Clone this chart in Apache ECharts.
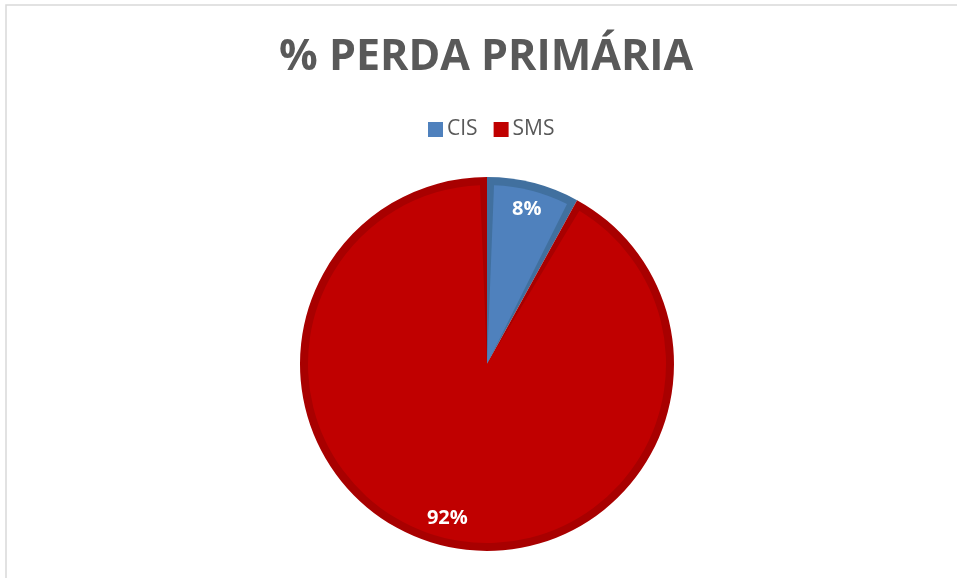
<!DOCTYPE html>
<html>
<head>
<meta charset="utf-8">
<script src="https://cdn.jsdelivr.net/npm/echarts@6/dist/echarts.min.js"></script>
<style>
  html, body { margin: 0; padding: 0; background: #fff; }
  #chart { width: 957px; height: 578px; }
</style>
</head>
<body>
<div id="chart"></div>
<script>
const categories = ["CIS", "SMS"],
  values = [8, 92],
  fillColors = ["#4f81bd", "#c00000"],
  edgeColors = ["#41709f", "#a80000"];

const pieCenter = [487, 364];

const mainData = categories.map((name, i) => ({
  name: name,
  value: values[i],
  itemStyle: { color: fillColors[i] },
}));
const edgeData = categories.map((name, i) => ({
  name: name,
  value: values[i],
  itemStyle: { color: edgeColors[i] },
}));

echarts.init(document.querySelector("#chart")).setOption({
  animation: false,
  title: {
    text: "% PERDA PRIMÁRIA",
    left: 274,
    top: 31,
    textStyle: {
      fontFamily: "Open Sans",
      fontWeight: "bold",
      fontSize: 43,
      color: "#595959",
    },
  },
  legend: {
    data: categories,
    top: 114,
    left: 423,
    itemWidth: 15,
    itemHeight: 15,
    itemGap: 16,
    icon: "rect",
    textStyle: {
      fontFamily: "Open Sans",
      fontSize: 21,
      color: "#595959",
      padding: [0, 0, 0, -1],
    },
  },
  graphic: [
    {
      type: "rect",
      shape: { x: 6, y: 5, width: 1000, height: 600 },
      style: { fill: "none", stroke: "#d9d9d9", lineWidth: 1.5 },
      silent: true,
    },
  ],
  series: [
    {
      // main fill
      name: "main",
      type: "pie",
      z: 3,
      center: pieCenter,
      radius: [0, 179],
      startAngle: 90,
      clockwise: true,
      padAngle: 4.5,
      label: { show: false },
      labelLine: { show: false },
      silent: true,
      data: mainData,
    },
    {
      // darker bevel edge under it
      name: "edge",
      type: "pie",
      z: 2,
      center: pieCenter,
      radius: [0, 187],
      startAngle: 90,
      clockwise: true,
      label: { show: false },
      labelLine: { show: false },
      silent: true,
      data: edgeData,
    },
    {
      // label ring
      name: "labels",
      type: "pie",
      z: 4,
      center: pieCenter,
      radius: [126, 187],
      startAngle: 90,
      clockwise: true,
      silent: true,
      itemStyle: { color: "transparent" },
      label: {
        show: true,
        position: "inside",
        formatter: "{c}%",
        fontFamily: "Open Sans",
        fontWeight: "bold",
        fontSize: 20,
        color: "#ffffff",
      },
      labelLine: { show: false },
      data: categories.map((name, i) => ({ name: name, value: values[i] })),
    },
  ],
});
</script>
</body>
</html>
